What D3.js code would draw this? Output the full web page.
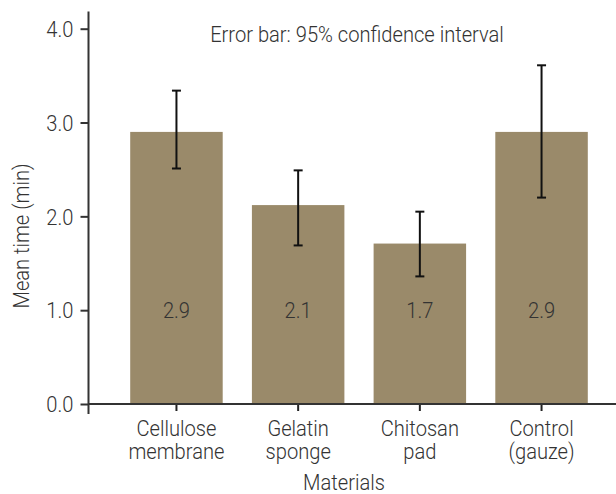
<!DOCTYPE html>
<html>
<head>
<meta charset="utf-8">
<script src="https://cdn.jsdelivr.net/npm/d3@7"></script>
<style>
  body { margin: 0; background: #fff; }
  svg text { font-family: Roboto, "Liberation Sans", sans-serif; fill: #333; font-size: 22.5px; font-weight: 300; }
</style>
</head>
<body>
<script>
const categories = ['Cellulose membrane', 'Gelatin sponge', 'Chitosan pad', 'Control (gauze)'];
const labelLines = [['Cellulose', 'membrane'], ['Gelatin', 'sponge'], ['Chitosan', 'pad'], ['Control', '(gauze)']];
const means = [2.9, 2.12, 1.71, 2.9];
const valueLabels = ['2.9', '2.1', '1.7', '2.9'];
const ciLow = [2.51, 1.69, 1.36, 2.2];
const ciHigh = [3.34, 2.49, 2.05, 3.61];
const yTicks = [0, 1, 2, 3, 4];
const note = 'Error bar: 95% confidence interval';

const width = 616;
const height = 494;

const svg = d3.select('body').append('svg')
  .attr('width', width)
  .attr('height', height);

// condensed look: squeeze text horizontally so the note is ~294px wide
const probe = svg.append('text').text(note);
const sx = 294 / probe.node().getComputedTextLength();
probe.remove();

function place(sel, px, py, extra = '') {
  sel.attr('x', 0).attr('y', 0)
    .attr('transform', `translate(${px},${py}) ${extra} scale(${sx},1)`);
}

const x = d3.scaleBand()
  .domain(categories)
  .range([101, 617])
  .padding(0.24);

const y = d3.scaleLinear()
  .domain([0, 4])
  .range([404, 28.7]);

const barColor = '#9a8a6a';
const cx = d => x(d) + x.bandwidth() / 2;

svg.selectAll('.bar')
  .data(categories)
  .enter().append('rect')
  .attr('class', 'bar')
  .attr('x', d => x(d))
  .attr('width', x.bandwidth())
  .attr('y', (d, i) => y(means[i]))
  .attr('height', (d, i) => y(0) - y(means[i]))
  .attr('fill', barColor);

svg.selectAll('.val')
  .data(categories)
  .enter().append('text')
  .attr('class', 'val')
  .attr('text-anchor', 'middle')
  .text((d, i) => valueLabels[i])
  .each(function (d) { place(d3.select(this), cx(d), y(1) + 8); });

// error bars
const err = svg.selectAll('.err')
  .data(categories)
  .enter().append('g')
  .attr('class', 'err')
  .attr('stroke', '#111')
  .attr('stroke-width', 2);

err.append('line')
  .attr('x1', cx).attr('x2', cx)
  .attr('y1', (d, i) => y(ciLow[i]))
  .attr('y2', (d, i) => y(ciHigh[i]));

[ciLow, ciHigh].forEach(arr => {
  err.append('line')
    .attr('x1', d => cx(d) - 4.5)
    .attr('x2', d => cx(d) + 4.5)
    .attr('y1', (d, i) => y(arr[i]))
    .attr('y2', (d, i) => y(arr[i]));
});

// y axis
const yAxis = svg.append('g')
  .attr('transform', 'translate(88.5,0)')
  .call(d3.axisLeft(y).tickValues(yTicks).tickFormat(d3.format('.1f')).tickSize(8).tickPadding(5));
yAxis.select('.domain').remove();
yAxis.append('line')
  .attr('y1', 11.5).attr('y2', 414)
  .attr('stroke', '#333').attr('stroke-width', 2);
yAxis.selectAll('.tick line').attr('stroke', '#333').attr('stroke-width', 2);
yAxis.selectAll('.tick text')
  .attr('fill', '#333')
  .attr('font-size', null)
  .attr('font-family', null)
  .attr('dy', '0.34em')
  .each(function () { place(d3.select(this), -15, 0); });

// x axis
const xAxis = svg.append('g')
  .attr('transform', `translate(0,${y(0)})`)
  .call(d3.axisBottom(x).tickSize(7).tickFormat(''));
xAxis.select('.domain').remove();
xAxis.append('line')
  .attr('x1', 88).attr('x2', 616)
  .attr('stroke', '#333').attr('stroke-width', 2);
xAxis.selectAll('.tick line').attr('stroke', '#222').attr('stroke-width', 2);

// category labels, one text per line
categories.forEach((d, i) => {
  labelLines[i].forEach((line, j) => {
    place(svg.append('text')
      .attr('class', 'xlab')
      .attr('text-anchor', 'middle')
      .text(line), cx(d), 436 + j * 23);
  });
});

place(svg.append('text')
  .attr('text-anchor', 'middle')
  .text('Materials'), 344, 490);

place(svg.append('text')
  .attr('text-anchor', 'middle')
  .text('Mean time (min)'), 29, 236, 'rotate(-90)');

place(svg.append('text')
  .attr('text-anchor', 'middle')
  .text(note), 357, 42);
</script>
</body>
</html>
